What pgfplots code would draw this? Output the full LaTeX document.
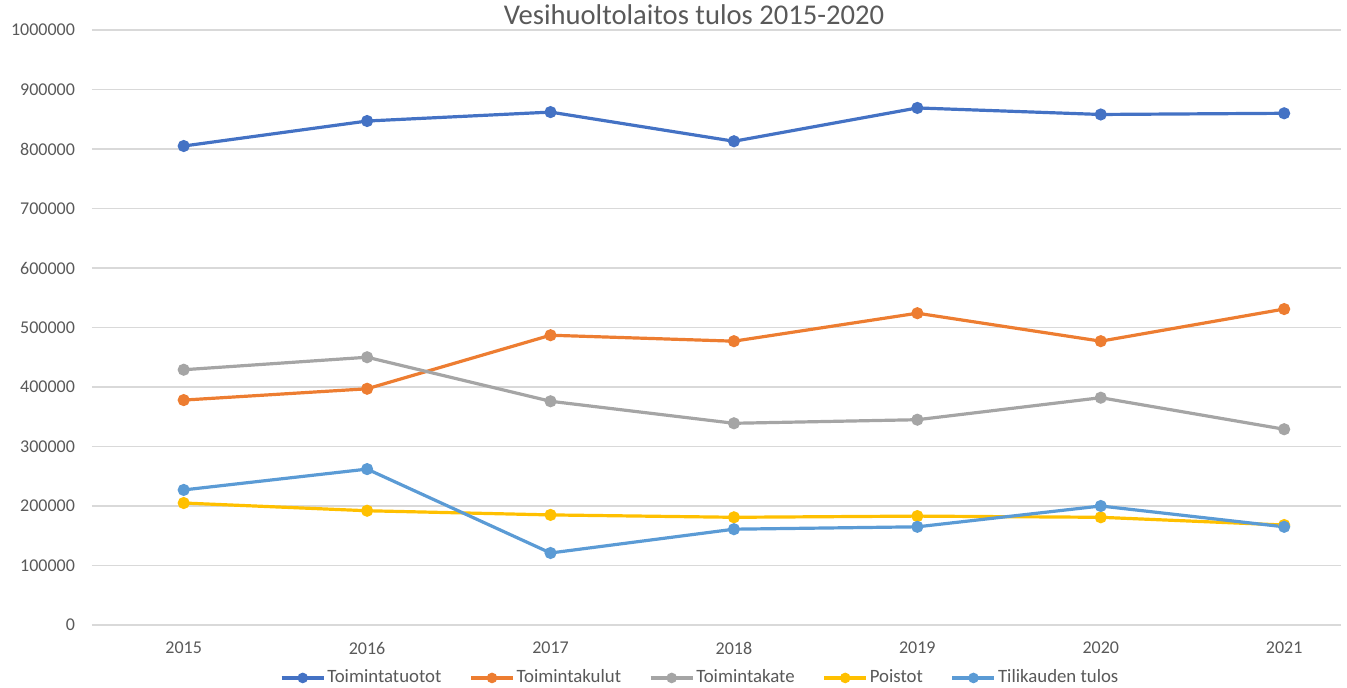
\documentclass[border=0pt]{standalone}
\usepackage{pgfplots}
\pgfplotsset{compat=1.18}
\usepackage{fontspec}
\setmainfont{Carlito}
\definecolor{cA}{HTML}{4472C4}
\definecolor{cB}{HTML}{ED7D31}
\definecolor{cC}{HTML}{A5A5A5}
\definecolor{cD}{HTML}{FFC000}
\definecolor{cE}{HTML}{5B9BD5}
\definecolor{txt}{HTML}{595959}
\definecolor{gridc}{HTML}{D9D9D9}
\begin{document}
\begin{tikzpicture}
\path[use as bounding box] (-46pt,-31.5pt) rectangle (627.5pt,312.5pt);
\begin{axis}[
  at={(0pt,0pt)}, anchor=south west,
  scale only axis, width=624.5pt, height=297.5pt,
  xmin=-0.5, xmax=6.31, ymin=0, ymax=1000000,
  xtick={0,...,6}, xticklabels={2015,2016,2017,2018,2019,2020,2021},
  ytick={0,100000,...,1000000},
  scaled y ticks=false,
  yticklabel style={/pgf/number format/fixed,/pgf/number format/1000 sep={}},
  /pgf/number format/assume math mode=true,
  axis line style={draw=none},
  major tick length=0pt,
  xmajorgrids=false, ymajorgrids=true,
  y grid style={draw=gridc, line width=0.6pt},
  tick label style={font=\fontsize{9}{10}\selectfont, text=txt},
  xticklabel style={yshift=-5pt},
  yticklabel style={xshift=-5pt},
  clip=false,
  every axis plot/.append style={line width=1.6pt, mark=*, mark size=2.2pt},
  legend columns=5,
  legend style={at={(rel axis cs:0.487,-0.089)}, anchor=center, draw=none,
    font=\fontsize{9.4}{10}\selectfont, text=txt,
    /tikz/every even column/.append style={column sep=13pt},
    nodes={inner sep=1pt}},
  legend image code/.code={\draw[mark repeat=2,mark phase=2,mark size=1.8pt,#1] plot coordinates {(0pt,0pt) (10.5pt,0pt) (21pt,0pt)};},
]
\addplot[color=cA, mark options={fill=cA}] coordinates {(0,805000) (1,847000) (2,862000) (3,813000) (4,869000) (5,858000) (6,860000)};
\addlegendentry{Toimintatuotot}
\addplot[color=cB, mark options={fill=cB}] coordinates {(0,378000) (1,397000) (2,487000) (3,477000) (4,524000) (5,477000) (6,531000)};
\addlegendentry{Toimintakulut}
\addplot[color=cC, mark options={fill=cC}] coordinates {(0,429000) (1,450000) (2,376000) (3,339000) (4,345000) (5,382000) (6,329000)};
\addlegendentry{Toimintakate}
\addplot[color=cD, mark options={fill=cD}] coordinates {(0,205000) (1,192000) (2,185000) (3,181000) (4,183000) (5,181000) (6,168000)};
\addlegendentry{Poistot}
\addplot[color=cE, mark options={fill=cE}] coordinates {(0,227000) (1,262000) (2,121000) (3,161000) (4,165000) (5,200000) (6,165000)};
\addlegendentry{Tilikauden tulos}
\node[font=\fontsize{14.3}{16}\selectfont, text=txt] at (rel axis cs:0.482,1.025) {Vesihuoltolaitos tulos 2015-2020};
\end{axis}
\end{tikzpicture}
\end{document}
